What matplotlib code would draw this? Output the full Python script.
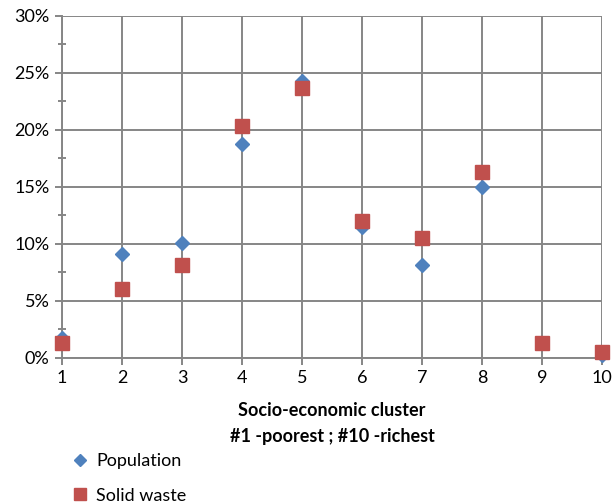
import matplotlib.pyplot as plt
from matplotlib.ticker import PercentFormatter, MultipleLocator

plt.rcParams['font.family'] = ['Lato', 'DejaVu Sans']

clusters = [1, 2, 3, 4, 5, 6, 7, 8, 9, 10]
population = [1.75, 9.1, 10.1, 18.8, 24.3, 11.5, 8.2, 15.0, 1.3, 0.25]
solid_waste = [1.35, 6.05, 8.2, 20.35, 23.65, 12.0, 10.55, 16.3, 1.35, 0.5]

blue = "#4F81BD"
red = "#C0504D"
grid_c = "#868686"

fig = plt.figure(figsize=(6.16, 5.04), dpi=100)
ax = fig.add_axes([0.1006, 0.2897, 0.8766, 0.6786])

ax.plot(clusters, population, "D", color=blue, markersize=7.4, label="Population",
        clip_on=False, zorder=3)
ax.plot(clusters, solid_waste, "s", color=red, markersize=10, label="Solid waste",
        clip_on=False, zorder=4)

ax.set_xlim(1, 10)
ax.set_ylim(0, 30)
ax.xaxis.set_major_locator(MultipleLocator(1))
ax.yaxis.set_major_locator(MultipleLocator(5))
ax.yaxis.set_minor_locator(MultipleLocator(2.5))
ax.yaxis.set_major_formatter(PercentFormatter(decimals=0))

ax.grid(True, which="major", color=grid_c, linewidth=1.4, zorder=0)
ax.set_axisbelow(True)
for s in ["top", "right"]:
    ax.spines[s].set_visible(False)
for s in ["left", "bottom"]:
    ax.spines[s].set_color(grid_c)
    ax.spines[s].set_linewidth(1.4)

ax.tick_params(axis="both", which="major", color=grid_c, width=1.4, length=5,
               labelsize=13, pad=4)
ax.tick_params(axis="y", which="minor", color=grid_c, width=1.4, length=6, direction="inout")

ax.set_xlabel("Socio-economic cluster\n#1 -poorest ; #10 -richest", fontsize=13,
              fontweight="bold", linespacing=1.65, labelpad=11)

ax.legend(loc="upper left", bbox_to_anchor=(0.0, -0.258), frameon=False, fontsize=13,
          handletextpad=0.3, labelspacing=1.0, handlelength=1.2, borderaxespad=0,
          markerscale=0.8)

fig.savefig("out.png", dpi=100)
